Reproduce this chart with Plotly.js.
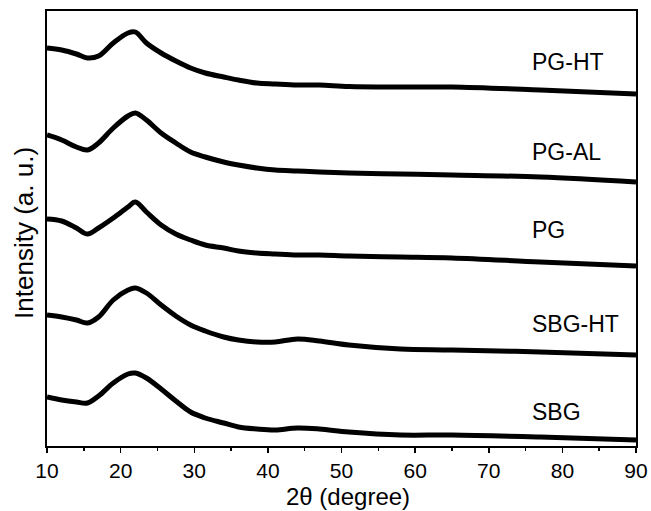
<!DOCTYPE html>
<html>
<head>
<meta charset="utf-8">
<script src="https://cdn.plot.ly/plotly-3.0.1.min.js"></script>
<style>html,body{margin:0;padding:0;background:#fff;}#chart{width:651px;height:511px;}</style>
</head>
<body>
<div id="chart"></div>
<script>
// 2θ positions (degree)
const twoTheta = [10, 12, 14, 15.5, 17, 19, 21, 22, 23.5, 25.5, 27.5, 29.5, 31.5, 34, 36, 38.5, 41, 44, 47, 51, 58, 65, 77, 90];

// Stacked intensities (a. u., offset already included)
const pgHT  = [398, 396, 392, 388, 390, 403, 413, 414, 403, 393, 385, 378, 373, 369, 366, 363, 362, 361, 361, 359.5, 359, 359, 356, 352];
const pgAL  = [311, 306, 299, 296, 303, 318, 330, 333, 326, 313, 303, 294, 289, 284, 281, 278, 276, 275, 274, 273, 272, 271, 269, 264];
const pg    = [227, 225, 218, 212, 218, 228, 239, 244, 234, 221, 212, 206, 201, 198, 195, 193, 192, 191, 191, 190, 189, 188, 184, 180];
const sbgHT = [131, 129, 126, 123, 129, 146, 156, 158, 153, 141, 130, 121, 115, 109, 106, 104, 104, 107, 105, 101, 97, 96, 94, 91];
const sbg   = [49, 46, 44, 43, 50, 63, 72, 73, 68, 57, 45, 34, 28, 23, 19, 17, 16, 18, 17, 14, 11, 11, 9, 6];

const seriesNames = ["PG-HT", "PG-AL", "PG", "SBG-HT", "SBG"];
const seriesData = [pgHT, pgAL, pg, sbgHT, sbg];
const labelX = 75.6;
const labelY = [384, 294, 216, 122, 34];

const traces = seriesData.map((d, i) => ({
  x: twoTheta, y: d, type: "scatter", mode: "lines", name: seriesNames[i],
  line: {color: "#000", width: 5, shape: "spline", smoothing: 1},
  showlegend: false, hoverinfo: "skip"
}));

const FONT = "Liberation Sans, Arial, sans-serif";
const annotations = seriesNames.map((n, i) => ({
  x: labelX, y: labelY[i], xref: "x", yref: "y", text: n, showarrow: false,
  xanchor: "left", yanchor: "middle",
  font: {family: FONT, size: 23, color: "#000"}
}));
// axis titles placed as annotations to match the reference positions
annotations.push({
  x: -0.039, y: 0.49, xref: "paper", yref: "paper", text: "Intensity (a. u.)",
  showarrow: false, textangle: -90, xanchor: "center", yanchor: "middle",
  font: {family: FONT, size: 26, color: "#000"}
});
annotations.push({
  x: 0.511, y: -0.116, xref: "paper", yref: "paper", text: "2θ (degree)",
  showarrow: false, xanchor: "center", yanchor: "middle",
  font: {family: FONT, size: 24, color: "#000"}
});

const layout = {
  width: 651, height: 511,
  margin: {l: 47, r: 15, t: 11, b: 65},
  paper_bgcolor: "#fff", plot_bgcolor: "#fff",
  font: {family: FONT, color: "#000"},
  xaxis: {
    range: [10, 90], dtick: 10, tick0: 10,
    ticks: "outside", ticklen: 5, tickwidth: 1.5, tickcolor: "#000",
    minor: {dtick: 5, ticks: "outside", ticklen: 3, tickwidth: 1.5, tickcolor: "#000"},
    showline: true, linewidth: 2, linecolor: "#000", mirror: true,
    showgrid: false, zeroline: false,
    tickfont: {size: 21, color: "#000"}
  },
  yaxis: {
    range: [0, 435], showticklabels: false, ticks: "",
    showline: true, linewidth: 2, linecolor: "#000", mirror: true,
    showgrid: false, zeroline: false
  },
  annotations: annotations
};

Plotly.newPlot("chart", traces, layout, {displayModeBar: false, staticPlot: true});
</script>
</body>
</html>
